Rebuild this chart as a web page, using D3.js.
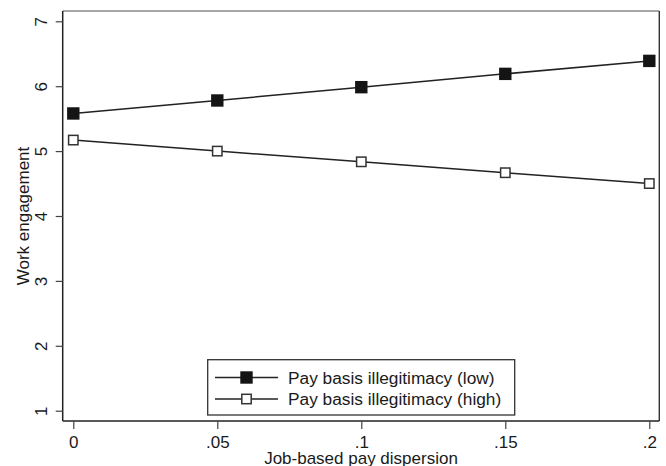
<!DOCTYPE html>
<html>
<head>
<meta charset="utf-8">
<script src="https://cdn.jsdelivr.net/npm/d3@7/dist/d3.min.js"></script>
<style>
  html, body { margin: 0; padding: 0; background: #fff; }
  svg { display: block; font-family: "Liberation Sans", Arial, Helvetica, sans-serif; }
</style>
</head>
<body>
<svg id="chart" width="666" height="466"></svg>
<script>
// Predicted work engagement across job-based pay dispersion
const dispersion = [0, 0.05, 0.1, 0.15, 0.2];
const engagementLow = [5.58, 5.78, 5.985, 6.19, 6.39];
const engagementHigh = [5.17, 5.00, 4.835, 4.667, 4.50];
const seriesNames = ["Pay basis illegitimacy (low)", "Pay basis illegitimacy (high)"];
const xTicks = [0, 0.05, 0.1, 0.15, 0.2];
const xTickLabels = ["0", ".05", ".1", ".15", ".2"];
const yTicks = [1, 2, 3, 4, 5, 6, 7];

const svg = d3.select("#chart");
const frame = { left: 62.7, right: 659.3, top: 11, bottom: 421 };

const x = d3.scaleLinear().domain([0, 0.2]).range([73.3, 649.3]);
const y = d3.scaleLinear().domain([1, 7]).range([410.7, 21.3]);

const ink = "#1a1a1a";
const fs = 17;

// plot frame
svg.append("line").attr("x1", frame.left).attr("x2", frame.right)
  .attr("y1", frame.top).attr("y2", frame.top)
  .attr("stroke", "#8a8a8a").attr("stroke-width", 1.6);
svg.append("line").attr("x1", frame.right).attr("x2", frame.right)
  .attr("y1", frame.top).attr("y2", frame.bottom)
  .attr("stroke", "#333").attr("stroke-width", 1.4);

// y axis
const yAxis = d3.axisLeft(y).tickValues(yTicks).tickSize(7).tickPadding(9).tickFormat(d3.format("d"));
const gy = svg.append("g").attr("transform", `translate(${frame.left},0)`).call(yAxis);
gy.select(".domain").attr("d", `M0,${frame.top}V${frame.bottom}`).attr("stroke", "#222").attr("stroke-width", 1.5);
gy.selectAll(".tick line").attr("stroke", "#444").attr("stroke-width", 1.2);
gy.selectAll(".tick text")
  .attr("fill", ink).attr("font-size", fs)
  .attr("x", null).attr("dy", null)
  .attr("text-anchor", "middle")
  .attr("transform", "translate(-15.5,0) rotate(-90)")
  .attr("y", 0);

// x axis
const xAxis = d3.axisBottom(x).tickValues(xTicks).tickSize(8)
  .tickFormat((d, i) => xTickLabels[i]);
const gx = svg.append("g").attr("transform", `translate(0,${frame.bottom})`).call(xAxis);
gx.select(".domain").attr("d", `M${frame.left},0H${frame.right}`).attr("stroke", "#222").attr("stroke-width", 1.5);
gx.selectAll(".tick line").attr("stroke", "#444").attr("stroke-width", 1.2);
gx.selectAll(".tick text").attr("fill", ink).attr("font-size", fs)
  .attr("dy", null).attr("y", 26.5);

// axis titles
svg.append("text")
  .attr("transform", `translate(29,${(frame.top + frame.bottom) / 2}) rotate(-90)`)
  .attr("text-anchor", "middle").attr("font-size", fs).attr("fill", ink)
  .text("Work engagement");
svg.append("text")
  .attr("x", (frame.left + frame.right) / 2).attr("y", 464.3)
  .attr("text-anchor", "middle").attr("font-size", fs).attr("fill", ink)
  .text("Job-based pay dispersion");

// series lines and markers
const line = d3.line().x((d, i) => x(dispersion[i])).y(d => y(d));
const series = [
  { values: engagementLow, fill: "#141414", size: 12.4, stroke: "none" },
  { values: engagementHigh, fill: "#fff", size: 9.4, stroke: "#333" }
];

series.forEach(s => {
  svg.append("path").datum(s.values).attr("d", line)
    .attr("fill", "none").attr("stroke", "#222").attr("stroke-width", 1.5);
});
series.forEach(s => {
  svg.append("g").selectAll("rect").data(s.values).join("rect")
    .attr("x", (d, i) => x(dispersion[i]) - s.size / 2)
    .attr("y", d => y(d) - s.size / 2)
    .attr("width", s.size).attr("height", s.size)
    .attr("fill", s.fill)
    .attr("stroke", s.stroke).attr("stroke-width", 1.5);
});

// legend
const legend = svg.append("g");
legend.append("rect").attr("x", 207.7).attr("y", 359.7).attr("width", 307).attr("height", 55.3)
  .attr("fill", "#fff").attr("stroke", "#333").attr("stroke-width", 1.3);
const rowsY = [377.5, 399];
series.forEach((s, i) => {
  const cy = rowsY[i];
  legend.append("line").attr("x1", 215).attr("x2", 278).attr("y1", cy).attr("y2", cy)
    .attr("stroke", "#222").attr("stroke-width", 1.5);
  legend.append("rect").attr("x", 246.5 - s.size / 2).attr("y", cy - s.size / 2)
    .attr("width", s.size).attr("height", s.size)
    .attr("fill", s.fill).attr("stroke", s.stroke).attr("stroke-width", 1.5);
  legend.append("text").attr("x", 288).attr("y", cy + 6)
    .attr("font-size", 17.3).attr("fill", ink).text(seriesNames[i]);
});
</script>
</body>
</html>
